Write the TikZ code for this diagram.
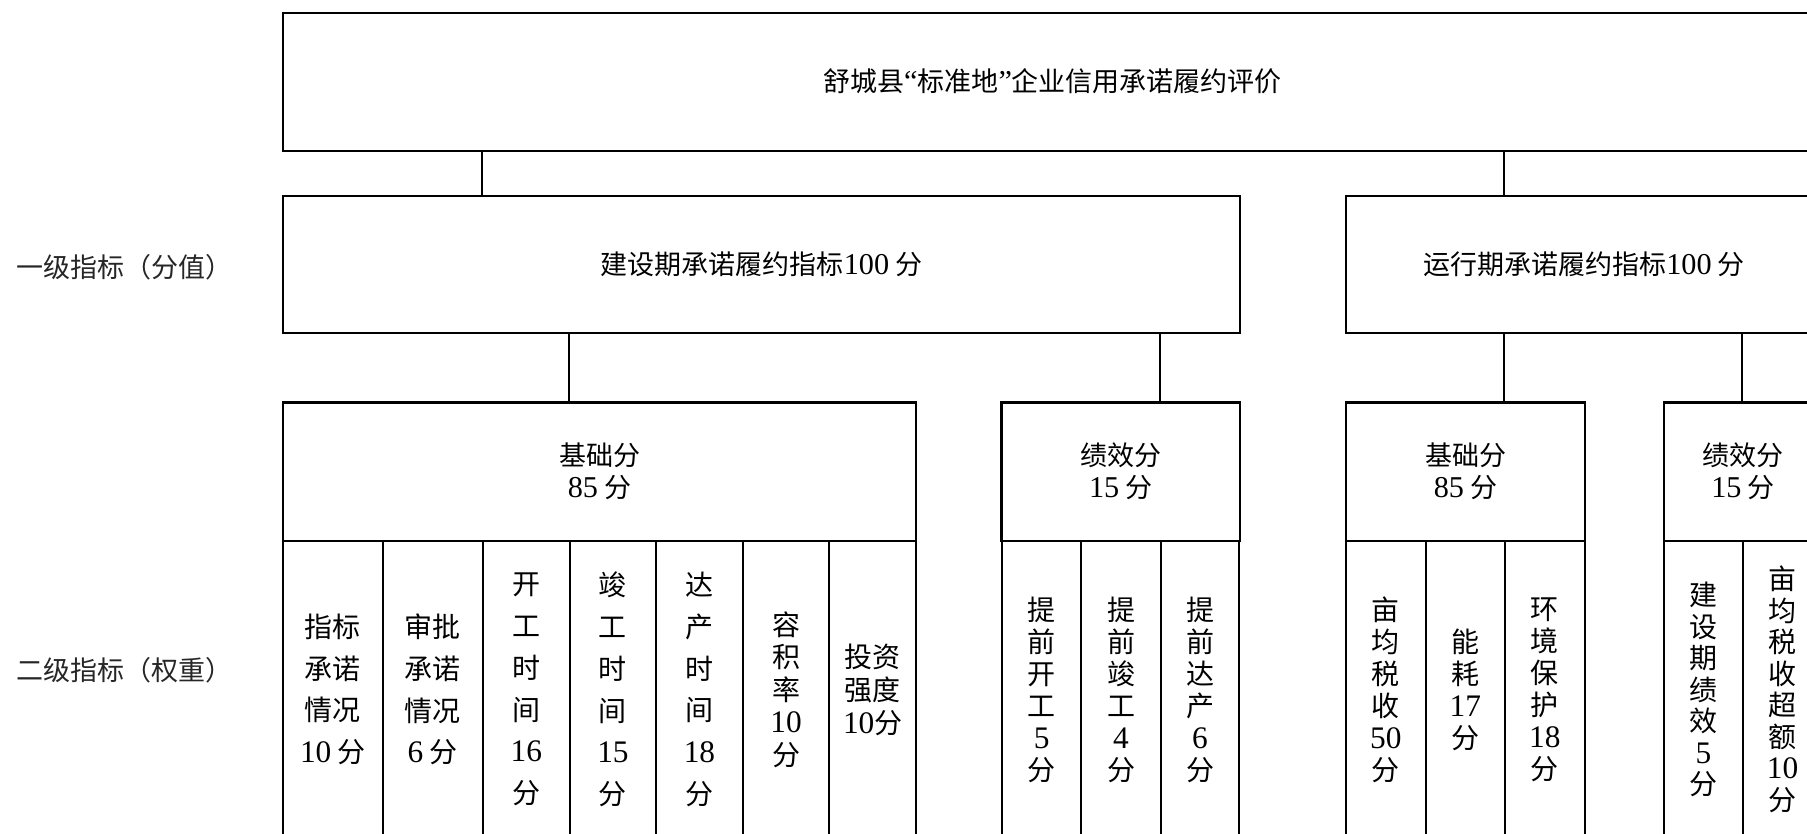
\documentclass[tikz,border=0pt]{standalone}
\usepackage{fontspec}
\setmainfont{Liberation Serif}
\newfontfamily\cjk{Noto Sans CJK SC}
\newfontfamily\shuf[Scale=1.12]{Liberation Serif}
\newcommand\shu[1]{{\shuf #1}}

\begin{document}
\begin{tikzpicture}[x=1pt, y=-1pt,
    box/.style={draw, line width=2.1pt, inner sep=0pt, align=center},
    head/.style={box, font={\cjk\fontsize{27}{32}\selectfont}},
    col/.style={box, minimum height=297, font={\cjk\fontsize{28}{#1}\selectfont}},
    lab/.style={inner sep=0pt, text=black!85, font={\cjk\fontsize{27}{32}\selectfont}}]
  \useasboundingbox (0,0) rectangle (1807,833);
  \clip (0,0) rectangle (1807,833);

  % row labels
  \node[lab, anchor=west] (yiji) at (16,267) {一级指标（分值）};
  \node[lab, anchor=west] (erji) at (16,670) {二级指标（权重）};

  % title and first level
  \node[head, minimum width=1539, minimum height=138] (pj) at (1052.5,81.7) {舒城县\shu{“}标准地\shu{”}企业信用承诺履约评价};
  \node[head, minimum width=957, minimum height=137] (jsq) at (761.5,264.5) {建设期承诺履约指标\shu{100} 分};
  \node[head, minimum width=476, minimum height=137] (yxq) at (1584,264.5) {运行期承诺履约指标\shu{100} 分};

  % second level heads
  \node[head, minimum width=633, minimum height=138.5] (jjc) at (599.5,471.75) {基础分\\\shu{85} 分};
  \node[head, minimum width=238.5, minimum height=138.5] (jjx) at (1120.75,471.75) {绩效分\\\shu{15} 分};
  \node[head, minimum width=239, minimum height=138.5] (yjc) at (1465.5,471.75) {基础分\\\shu{85} 分};
  \node[head, minimum width=158, minimum height=138.5] (yjx) at (1743,471.75) {绩效分\\\shu{15} 分};

  % columns, construction period
  \foreach \x/\w/\s/\t [count=\n] in {283/99.7/41.7/{指标\\承诺\\情况\\\shu{10} 分},
      382.7/99.9/41.7/{审批\\承诺\\情况\\\shu{6} 分},
      482.6/87.3/41.7/{开\\工\\时\\间\\\shu{16}\\分},
      569.9/86.1/41.7/{竣\\工\\时\\间\\\shu{15}\\分},
      656/86.9/41.7/{达\\产\\时\\间\\\shu{18}\\分},
      742.9/86.5/32.5/{容\\积\\率\\\shu{10}\\分},
      829.4/86.6/33/{投资\\强度\\\shu{10}分}} {
    \node[col=\s, minimum width=\w] (jc\n) at (\x+\w/2,689.5) {\t};
  }
  \foreach \x/\w/\t [count=\n] in {1001.8/79.6/{提\\前\\开\\工\\\shu{5}\\分},
      1081.4/79.3/{提\\前\\竣\\工\\\shu{4}\\分},
      1160.7/78.6/{提\\前\\达\\产\\\shu{6}\\分}} {
    \node[col=32, minimum width=\w] (jx\n) at (\x+\w/2,689.5) {\t};
  }

  % columns, operation period
  \foreach \x/\w/\t [count=\n] in {1346/79.7/{亩\\均\\税\\收\\\shu{50}\\分},
      1425.7/79.1/{能\\耗\\\shu{17}\\分},
      1504.8/80.1/{环\\境\\保\\护\\\shu{18}\\分}} {
    \node[col=32, minimum width=\w] (yc\n) at (\x+\w/2,689.5) {\t};
  }
  \foreach \x/\w/\t [count=\n] in {1664/78.8/{建\\设\\期\\绩\\效\\\shu{5}\\分},
      1742.8/79.5/{亩\\均\\税\\收\\超\\额\\\shu{10}\\分}} {
    \node[col=31.5, minimum width=\w] (yx\n) at (\x+\w/2,689.5) {\t};
  }

  % connectors
  \draw[line width=2.1pt] (pj.south -| jc3.west) -- (jsq.north -| jc3.west);
  \draw[line width=2.1pt] (pj.south -| yc3.west) -- (yxq.north -| yc3.west);
  \draw[line width=2.1pt] (jsq.south -| jc4.west) -- (jjc.north -| jc4.west);
  \draw[line width=2.1pt] (jsq.south -| jx3.west) -- (jjx.north -| jx3.west);
  \draw[line width=2.1pt] (yxq.south -| yc3.west) -- (yjc.north -| yc3.west);
  \draw[line width=2.1pt] (yxq.south -| yx2.west) -- (yjx.north -| yx2.west);
\end{tikzpicture}
\end{document}
